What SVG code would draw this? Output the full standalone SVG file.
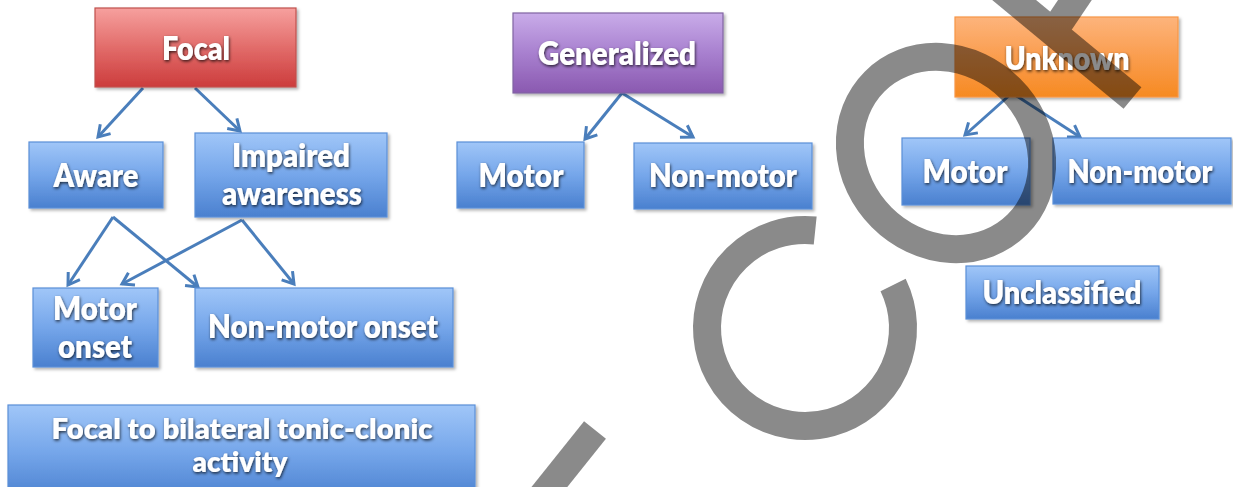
<svg xmlns="http://www.w3.org/2000/svg" width="1233" height="487" viewBox="0 0 1233 487">
  <defs>
    <linearGradient id="gBlue" x1="0" y1="0" x2="0" y2="1">
      <stop offset="0" stop-color="#a0c6f8"/>
      <stop offset="0.5" stop-color="#75a6ea"/>
      <stop offset="1" stop-color="#4a80cf"/>
    </linearGradient>
    <linearGradient id="gRed" x1="0" y1="0" x2="0" y2="1">
      <stop offset="0" stop-color="#f6a09e"/>
      <stop offset="0.5" stop-color="#e26c6a"/>
      <stop offset="1" stop-color="#cc3c3c"/>
    </linearGradient>
    <linearGradient id="gPurple" x1="0" y1="0" x2="0" y2="1">
      <stop offset="0" stop-color="#c9ace9"/>
      <stop offset="0.5" stop-color="#a880cf"/>
      <stop offset="1" stop-color="#8a59b0"/>
    </linearGradient>
    <linearGradient id="gOrange" x1="0" y1="0" x2="0" y2="1">
      <stop offset="0" stop-color="#fdb47c"/>
      <stop offset="0.5" stop-color="#fa9d4e"/>
      <stop offset="1" stop-color="#f68a22"/>
    </linearGradient>
    <filter id="boxShadow" x="-10%" y="-10%" width="120%" height="130%">
      <feDropShadow dx="2" dy="2" stdDeviation="1.5" flood-color="#000" flood-opacity="0.3"/>
    </filter>
    <filter id="textShadow" x="-10%" y="-20%" width="120%" height="150%">
      <feDropShadow dx="0.8" dy="1.5" stdDeviation="1.4" flood-color="#000" flood-opacity="0.75"/>
    </filter>
    <marker id="arrow" markerUnits="userSpaceOnUse" markerWidth="20" markerHeight="20" viewBox="-14 -10 18 20" refX="0" refY="0" orient="auto" overflow="visible">
      <path d="M -11 -7 L 0 0 L -11 7" fill="none" stroke="#4a7ebb" stroke-width="3" stroke-linejoin="miter"/>
    </marker>
    <style>
      .box { filter: url(#boxShadow); stroke-width: 1.2; }
      .blue { fill: url(#gBlue); stroke: #5a8fd8; }
      .red { fill: url(#gRed); stroke: #c0504d; }
      .purple { fill: url(#gPurple); stroke: #8064a2; }
      .orange { fill: url(#gOrange); stroke: #f79646; }
      .lbl { font-family: Lato, "Open Sans", "Liberation Sans", sans-serif; font-weight: 800; font-size: 32px; fill: #ffffff; text-anchor: middle; filter: url(#textShadow); }
      .small { font-size: 28px; }
      .conn { stroke: #4a7ebb; stroke-width: 3; fill: none; marker-end: url(#arrow); }
      .wm { fill: none; stroke: #000; stroke-width: 28; stroke-linecap: butt; }
    </style>
  </defs>

  <rect x="0" y="0" width="1233" height="487" fill="#ffffff"/>

  <g id="connectors">
    <line class="conn" x1="143" y1="88" x2="98" y2="137"/>
    <line class="conn" x1="195" y1="88" x2="240" y2="131"/>
    <line class="conn" x1="113" y1="217" x2="68" y2="285"/>
    <line class="conn" x1="113" y1="217" x2="198" y2="287"/>
    <line class="conn" x1="242" y1="220" x2="122" y2="284"/>
    <line class="conn" x1="242" y1="220" x2="294" y2="284"/>
    <line class="conn" x1="622" y1="93" x2="585" y2="139"/>
    <line class="conn" x1="622" y1="93" x2="693" y2="137"/>
    <line class="conn" x1="1012" y1="93" x2="965" y2="135"/>
    <line class="conn" x1="1012" y1="93" x2="1080" y2="137"/>
  </g>

  <g id="focal">
    <rect class="box red" x="95" y="8" width="201" height="79"/>
    <text class="lbl" x="196" y="60" textLength="68" lengthAdjust="spacingAndGlyphs">Focal</text>
  </g>
  <g id="aware">
    <rect class="box blue" x="29" y="142" width="134" height="66"/>
    <text class="lbl" x="96" y="187" textLength="85" lengthAdjust="spacingAndGlyphs">Aware</text>
  </g>
  <g id="impaired">
    <rect class="box blue" x="195" y="133" width="192" height="84"/>
    <text class="lbl" x="291" y="167" textLength="118" lengthAdjust="spacingAndGlyphs">Impaired</text>
    <text class="lbl" x="292" y="205" textLength="140" lengthAdjust="spacingAndGlyphs">awareness</text>
  </g>
  <g id="motor-onset">
    <rect class="box blue" x="33" y="288" width="125" height="79"/>
    <text class="lbl" x="95" y="320" textLength="84" lengthAdjust="spacingAndGlyphs">Motor</text>
    <text class="lbl" x="95" y="358" textLength="74" lengthAdjust="spacingAndGlyphs">onset</text>
  </g>
  <g id="nonmotor-onset">
    <rect class="box blue" x="195" y="288" width="258" height="79"/>
    <text class="lbl" x="323" y="338" textLength="230" lengthAdjust="spacingAndGlyphs">Non-motor onset</text>
  </g>
  <g id="focal-bilateral">
    <rect class="box blue" x="8" y="405" width="467" height="95"/>
    <text class="lbl small" x="242" y="439" textLength="381" lengthAdjust="spacingAndGlyphs">Focal to bilateral tonic-clonic</text>
    <text class="lbl small" x="240" y="472" textLength="95" lengthAdjust="spacingAndGlyphs">activity</text>
  </g>

  <g id="generalized">
    <rect class="box purple" x="513" y="13" width="210" height="80"/>
    <text class="lbl" x="617" y="65" textLength="158" lengthAdjust="spacingAndGlyphs">Generalized</text>
  </g>
  <g id="gen-motor">
    <rect class="box blue" x="457" y="142" width="127" height="66"/>
    <text class="lbl" x="521" y="187" textLength="85" lengthAdjust="spacingAndGlyphs">Motor</text>
  </g>
  <g id="gen-nonmotor">
    <rect class="box blue" x="634" y="143" width="178" height="66"/>
    <text class="lbl" x="723" y="187" textLength="148" lengthAdjust="spacingAndGlyphs">Non-motor</text>
  </g>

  <g id="unknown">
    <rect class="box orange" x="955" y="17" width="223" height="80"/>
    <text class="lbl" x="1067" y="70" textLength="125" lengthAdjust="spacingAndGlyphs">Unknown</text>
  </g>
  <g id="unk-motor">
    <rect class="box blue" x="902" y="138" width="128" height="67"/>
    <text class="lbl" x="965" y="183" textLength="85" lengthAdjust="spacingAndGlyphs">Motor</text>
  </g>
  <g id="unk-nonmotor">
    <rect class="box blue" x="1053" y="138" width="178" height="66"/>
    <text class="lbl" x="1140" y="183" textLength="145" lengthAdjust="spacingAndGlyphs">Non-motor</text>
  </g>
  <g id="unclassified">
    <rect class="box blue" x="966" y="266" width="193" height="53"/>
    <text class="lbl" x="1062" y="304" textLength="159" lengthAdjust="spacingAndGlyphs">Unclassified</text>
  </g>

  <g id="watermark" opacity="0.46">
    <line class="wm" x1="595" y1="430" x2="539" y2="500"/>
    <path class="wm" d="M 893.1 285 A 98 98 0 1 1 815.2 230.5"/>
    <ellipse class="wm" cx="946" cy="153" rx="101" ry="91" transform="rotate(45 946 153)"/>
    <line class="wm" x1="996" y1="-15" x2="1132.5" y2="98"/>
    <line class="wm" x1="1083" y1="-12" x2="1053" y2="32.5"/>
  </g>
</svg>
